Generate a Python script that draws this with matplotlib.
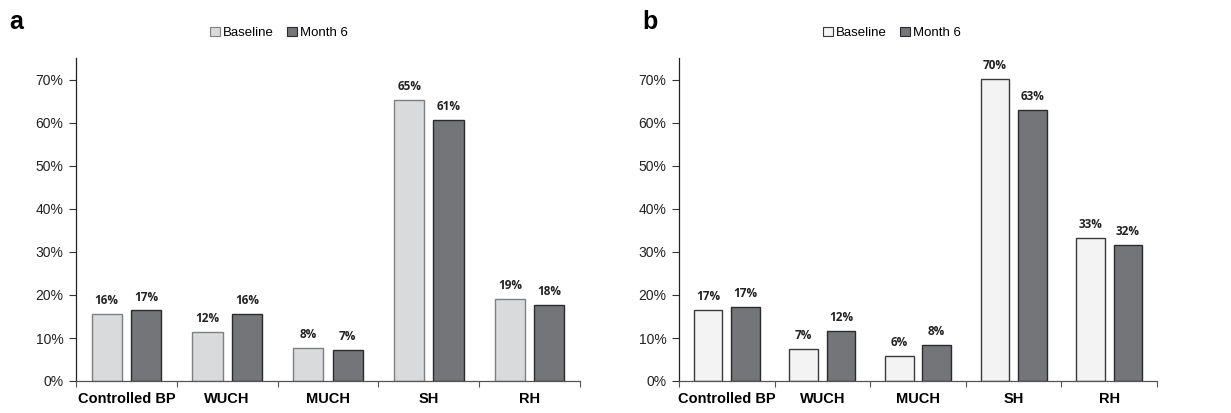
import matplotlib
matplotlib.use("Agg")
import matplotlib.pyplot as plt
import numpy as np
from matplotlib.patches import Patch
from matplotlib.ticker import FixedLocator, PercentFormatter

categories = ["Controlled BP", "WUCH", "MUCH", "SH", "RH"]
series_names = ["Baseline", "Month 6"]

a_baseline = [15.5, 11.5, 7.6, 65.3, 19.1]
a_month6 = [16.4, 15.5, 7.3, 60.7, 17.7]
a_base_labels = ["16%", "12%", "8%", "65%", "19%"]
a_m6_labels = ["17%", "16%", "7%", "61%", "18%"]

b_baseline = [16.5, 7.4, 5.9, 70.3, 33.3]
b_month6 = [17.2, 11.6, 8.4, 63.1, 31.7]
b_base_labels = ["17%", "7%", "6%", "70%", "33%"]
b_m6_labels = ["17%", "12%", "8%", "63%", "32%"]

yticks = [0, 10, 20, 30, 40, 50, 60, 70]

W, H = 1231, 413
fig = plt.figure(figsize=(W / 100, H / 100), dpi=100)

tick_font = "Liberation Sans"
label_font = ["Open Sans", "DejaVu Sans"]


def panel(left_px, right_px, base, m6, bl, ml, base_face, base_edge, letter, letter_x, legend_cx):
    bottom = 1 - 381 / H
    top = 1 - 58.5 / H
    ax = fig.add_axes([left_px / W, bottom, (right_px - left_px) / W, top - bottom])
    x = np.arange(len(categories))
    w = 0.30
    off = 0.195
    b1 = ax.bar(x - off, base, w, color=base_face, edgecolor=base_edge, linewidth=1.0, label=series_names[0])
    b2 = ax.bar(x + off, m6, w, color="#747579", edgecolor="#2b2b2b", linewidth=1.0, label=series_names[1])
    for bars, labs in ((b1, bl), (b2, ml)):
        for rect, lab in zip(bars, labs):
            ax.annotate(lab, (rect.get_x() + rect.get_width() / 2, rect.get_height()),
                        xytext=(0, 5), textcoords="offset points", ha="center", va="bottom",
                        fontsize=8.5, fontweight="bold", family=label_font, color="#222222")
    ax.set_xlim(-0.5, len(categories) - 0.5)
    ax.set_ylim(0, 75)
    ax.yaxis.set_major_locator(FixedLocator(yticks))
    ax.yaxis.set_major_formatter(PercentFormatter(decimals=0))
    ax.set_xticks(x)
    ax.set_xticklabels(categories, fontsize=10.5, fontweight="bold", family=tick_font)
    ax.set_xticks(np.arange(-0.5, len(categories)), minor=True)
    ax.tick_params(axis="x", which="major", length=0, pad=8)
    ax.tick_params(axis="x", which="minor", length=4, width=0.8, color="#555555", direction="out")
    ax.tick_params(axis="y", length=5, width=0.8, color="#333333", pad=4)
    for t in ax.get_yticklabels():
        t.set_fontsize(10)
        t.set_family(tick_font)
        t.set_color("#222222")
    for s in ["top", "right"]:
        ax.spines[s].set_visible(False)
    ax.spines["left"].set_color("#222222")
    ax.spines["bottom"].set_color("#555555")
    ax.spines["left"].set_linewidth(0.9)
    ax.spines["bottom"].set_linewidth(0.9)

    handles = [Patch(facecolor=base_face, edgecolor=base_edge, linewidth=0.8),
               Patch(facecolor="#747579", edgecolor="#2b2b2b", linewidth=0.8)]
    fig.legend(handles, series_names, loc="center", bbox_to_anchor=(legend_cx / W, 1 - 33 / H),
               ncol=2, frameon=False, handlelength=0.75, handleheight=0.75, handletextpad=0.2,
               columnspacing=1.0, prop={"family": tick_font, "size": 9.5})
    fig.text(letter_x / W, 1 - 22 / H, letter, fontsize=18, fontweight="bold",
             family=tick_font, va="center", ha="left")
    return ax


panel(76, 580, a_baseline, a_month6, a_base_labels, a_m6_labels,
      "#d9dadc", "#7f7f7f", "a", 9, 279)
panel(679, 1157, b_baseline, b_month6, b_base_labels, b_m6_labels,
      "#f2f3f2", "#3a3a3a", "b", 642, 892)

fig.savefig("out.png", dpi=100, facecolor="white")
